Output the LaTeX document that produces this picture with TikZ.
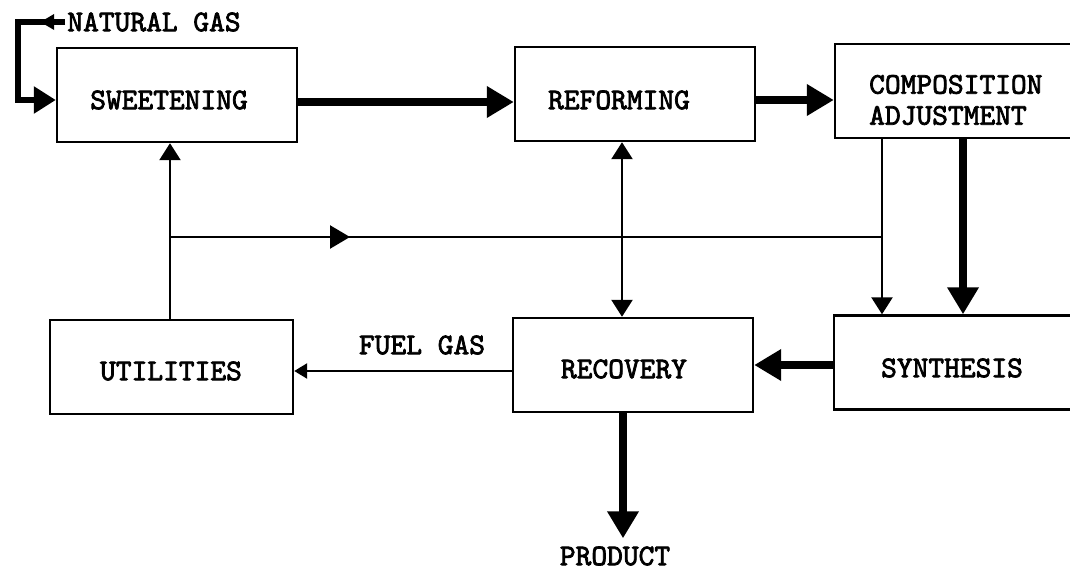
\documentclass[tikz,border=0pt]{standalone}
\usepackage{fontspec}
\usetikzlibrary{arrows.meta,decorations.markings}
\newfontfamily\lbmono{lmmono10-regular}[Extension=.otf,FakeBold=2.5]
\newcommand{\lbfont}{\lbmono\fontsize{30}{31}\selectfont}
\begin{document}
\begin{tikzpicture}[x=1pt,y=-1pt,
  box/.style={draw,line width=2.4pt,minimum width=240pt,minimum height=94pt,inner sep=0pt},
  lbl/.style={font=\lbfont,inner sep=2pt},
  thk/.style={line width=8pt,-{Triangle[length=27pt,width=30pt]}},
  thn/.style={line width=2.4pt,-{Triangle[length=17pt,width=21pt]}},
  thnboth/.style={line width=2.4pt,{Triangle[length=17pt,width=21pt]}-{Triangle[length=17pt,width=21pt]}},
  midarr/.style={postaction={decorate},decoration={markings,mark=at position #1 with {\arrow{Triangle[length=20pt,width=23pt]}}}}
]
\useasboundingbox (0,0) rectangle (1070,572);
\fill[white] (0,0) rectangle (1070,572);
\clip (0,0) rectangle (1070,572);

% boxes
\node[box] (sw)   at (177,95) {};
\node[box] (ref)  at (635,94) {};
\node[box] (comp) at (955,91) {};
\node[box] (syn)  at (954,362.5) {};
\node[box] (rec)  at (633,365) {};
\node[box,minimum width=243pt] (util) at (171.5,367) {};

% labels
\node[lbl] (swt)   at (169,100) {SWEETENING};
\node[lbl] (reft)  at (619,100) {REFORMING};
\node[lbl,anchor=west,align=left] (compt) at (867,100) {COMPOSITION\\ADJUSTMENT};
\node[lbl] (synt)  at (952,368) {SYNTHESIS};
\node[lbl] (rect)  at (624,369) {RECOVERY};
\node[lbl] (utilt) at (171,371) {UTILITIES};
\node[lbl] (fuel)  at (422,345) {FUEL GAS};
\node[lbl] (prod)  at (615,556) {PRODUCT};
\node[lbl] (ng)    at (154,22) {NATURAL GAS};

% natural gas feed
\coordinate (ngc) at (18,22);
\draw[line width=6pt,-{Triangle[length=22pt,width=26pt]},
      postaction={decorate},
      decoration={markings,mark=at position 25pt with {\arrow{Triangle[length=14pt,width=15pt]}}}]
  (ng.west) -- (ngc) |- ([yshift=-5pt]sw.west);

% main thick flows
\draw[thk] ([yshift=-7pt]sw.east) -- ([yshift=-8pt]ref.west);
\draw[thk] ([yshift=-6pt]ref.east) -- ([yshift=-9pt]comp.west);
\draw[thk] ([xshift=8pt]comp.south) -- ([xshift=8pt]comp.south |- syn.north);
\draw[thk] ([yshift=-2.5pt]syn.west) -- (rec.east);
\draw[thk,shorten >=6pt] ([xshift=-10pt]rec.south) -- ([xshift=-10pt]rec.south |- prod.north);

% thin flows
\coordinate (mid) at (0,237);
\draw[thnboth] ([xshift=-13pt]ref.south) -- ([xshift=-13pt]ref.south |- rec.north);
\draw[thn] ([xshift=-1.5pt]util.north) -- ([xshift=-1.5pt]util.north |- sw.south);
\draw[thn] ([xshift=-73pt]comp.south) -- ([xshift=-73pt]comp.south |- syn.north);
\coordinate (j1) at ([xshift=-1.5pt]util.north |- mid);
\coordinate (j2) at ([xshift=-73pt]comp.south |- mid);
\draw[line width=2.4pt,midarr=180pt] (j1) -- (j2);
\draw[line width=2.4pt,-{Triangle[length=13pt,width=15pt]}] ([yshift=-6pt]rec.west) -- ([yshift=-4pt]util.east);
\end{tikzpicture}
\end{document}
